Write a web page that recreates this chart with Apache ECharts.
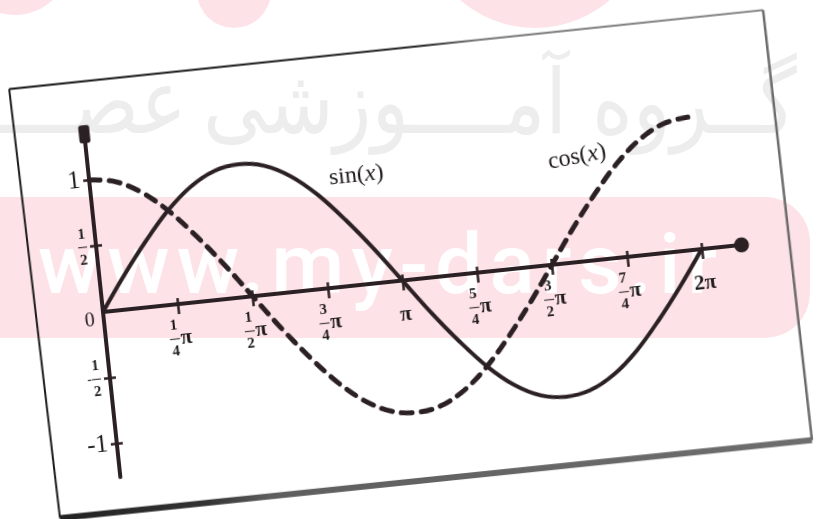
<!DOCTYPE html>
<html>
<head>
<meta charset="utf-8">
<script src="https://cdn.jsdelivr.net/npm/echarts@6/dist/echarts.min.js"></script>
<style>
  html, body { margin: 0; padding: 0; background: #fff; }
  #page { position: relative; width: 819px; height: 519px; overflow: hidden; background: #fff; }
  #wm { position: absolute; left: 0; top: 0; }
  /* the plot sheet sits slightly tilted on the page */
  #chart { position: absolute; left: 13px; top: 62px; width: 820px; height: 480px;
           transform: rotate(-6deg); transform-origin: 90px 250px; }
</style>
</head>
<body>
<div id="page">
  <svg id="wm" width="819" height="519" xmlns="http://www.w3.org/2000/svg">
    <g fill="#fde3e8">
      <circle cx="15" cy="-40" r="55"/>
      <circle cx="234" cy="-9" r="37"/>
      <circle cx="535" cy="-86" r="114"/>
      <rect x="-60" y="197" width="870" height="141" rx="45" ry="45"/>
    </g>
    <text id="fa1" x="0" y="0" font-family="DejaVu Sans" font-size="90" fill="#ededed">گــروه آمــــوزشی</text>
    <text id="fa2" x="0" y="0" font-family="DejaVu Sans" font-size="90" fill="#ededed">عصــــر</text>
    <text x="38" y="293" font-family="Roboto, 'Open Sans', sans-serif" font-weight="500" font-size="84"
          fill="#ffffff" textLength="679" lengthAdjust="spacing">www.my-dars.ir</text>
  </svg>
  <div id="chart"></div>
</div>
<script>
// Sample positions along x, in multiples of π
const xPi = [0, 0.083, 0.167, 0.25, 0.333, 0.417, 0.5, 0.583, 0.667, 0.75, 0.833, 0.917, 1,
             1.083, 1.167, 1.25, 1.333, 1.417, 1.5, 1.583, 1.667, 1.75, 1.833, 1.917, 2];
const sinValues = [0, 0.26, 0.5, 0.71, 0.87, 0.97, 1, 0.97, 0.87, 0.71, 0.5, 0.26, 0,
                   -0.26, -0.5, -0.71, -0.87, -0.97, -1, -0.97, -0.87, -0.71, -0.5, -0.26, 0];
const cosValues = [1, 0.97, 0.87, 0.71, 0.5, 0.26, 0, -0.26, -0.5, -0.71, -0.87, -0.97, -1,
                   -0.97, -0.87, -0.71, -0.5, -0.26, 0, 0.26, 0.5, 0.71, 0.87, 0.97, 1];
const xTickValues = [0.25, 0.5, 0.75, 1, 1.25, 1.5, 1.75, 2];
const xTickLabels = ['1/4π', '1/2π', '3/4π', 'π', '5/4π', '3/2π', '7/4π', '2π'];
const yTickValues = [1, 0.5, 0, -0.5, -1];
const yTickLabels = ['1', '1/2', '0', '-1/2', '-1'];
const yTickMarks = [1, 0.5, -0.5, -1];
const curveNames = ['sin(x)', 'cos(x)'];

// Watermark words: stretch the first run between its two edges, set the second run
// with the same stretch so that its right edge lands where it should
(function placeWatermark() {
  const a = document.getElementById('fa1');
  const b = document.getElementById('fa2');
  const ba = a.getBBox();
  const sx = (797 - 203) / ba.width;
  a.setAttribute('transform', 'translate(' + (797 - (ba.x + ba.width) * sx) + ',133) scale(' + sx + ',1)');
  const bb = b.getBBox();
  b.setAttribute('transform', 'translate(' + (187 - (bb.x + bb.width) * sx) + ',133) scale(' + sx + ',1)');
})();

// Layout of the plot inside its (rotated) box
const INK = '#2b2023';
const LABEL_INK = '#1f1a1b';
const SERIF = '"Liberation Serif", "DejaVu Serif", serif';
const OX = 90, OY = 250;               // where the axes cross, in box pixels
const PX_PER_PI = 301, PX_PER_UNIT = 132.7;
const X_MAX = 2.133, Y_MAX = 1.347, Y_MIN = -1.25;
const sinLabelAt = [0.884, 0.827];
const cosLabelAt = [1.62, 0.788];

function findLabel(values, labels, v) {
  const i = values.findIndex(t => Math.abs(t - v) < 1e-6);
  return i < 0 ? '' : labels[i];
}

function xLabel(v) {
  const s = findLabel(xTickValues, xTickLabels, v);
  if (!s) return '';
  const body = s.replace('π', '');
  if (body.indexOf('/') >= 0) {
    const [num, den] = body.split('/');
    return '{n|' + num + '}{g| }\n{b| }{p|π}\n{n|' + den + '}{g| }';
  }
  return '{e| }\n{w|' + s + '}\n{e| }';
}

function yLabel(v) {
  const s = findLabel(yTickValues, yTickLabels, v);
  if (!s) return '';
  if (s.indexOf('/') >= 0) {
    const neg = s[0] === '-';
    const [num, den] = s.replace('-', '').split('/');
    if (neg) return '{mg| }{n|' + num + '}\n{m|-}{b| }\n{mg| }{n|' + den + '}';
    return '{n|' + num + '}\n{b| }\n{n|' + den + '}';
  }
  if (s === '0') return '{z|0}';
  return '{i|' + s + '}';
}

const xRich = {
  n: { fontFamily: SERIF, fontSize: 15, fontWeight: 'bold', lineHeight: 13, width: 10, align: 'center', color: LABEL_INK },
  g: { width: 13, lineHeight: 13, align: 'right' },
  b: { width: 10, height: 1.2, lineHeight: 13, backgroundColor: '#4a3d3f' },
  p: { fontFamily: SERIF, fontSize: 21, fontWeight: 'bold', lineHeight: 13, width: 13, color: LABEL_INK },
  e: { fontSize: 10, lineHeight: 13 },
  w: { fontFamily: SERIF, fontSize: 21, fontWeight: 'bold', lineHeight: 13, color: LABEL_INK }
};

const yRich = {
  n: { fontFamily: SERIF, fontSize: 15, fontWeight: 'bold', lineHeight: 13, width: 9, align: 'center', color: LABEL_INK },
  b: { width: 9, height: 1.2, lineHeight: 13, backgroundColor: '#4a3d3f' },
  mg: { width: 7, lineHeight: 13 },
  m: { width: 7, fontFamily: SERIF, fontSize: 14, lineHeight: 13, color: LABEL_INK },
  i: { fontFamily: SERIF, fontSize: 25, color: LABEL_INK },
  z: { fontFamily: SERIF, fontSize: 20, color: LABEL_INK, padding: [16, 0, 0, 0] }
};

const curveLabelRich = {
  t: { fontFamily: SERIF, fontSize: 24, color: LABEL_INK },
  it: { fontFamily: SERIF, fontSize: 24, fontStyle: 'italic', color: LABEL_INK }
};

function curveLabel(name) {
  const m = name.match(/^(\w+)\((\w)\)$/);
  return '{t|' + m[1] + '(}{it|' + m[2] + '}{t|)}';
}

function framePt(dx, dy) { return [OX + dx, OY + dy]; }
const fTL = framePt(-70, -231.5), fTR = framePt(688, -231.3);
const fBR = framePt(691.7, 201.4), fBL = framePt(-64.3, 200.4);

const plotGrid = {
  left: OX,
  top: OY - Y_MAX * PX_PER_UNIT,
  width: X_MAX * PX_PER_PI,
  height: (Y_MAX - Y_MIN) * PX_PER_UNIT
};
// a thin companion grid whose lower edge runs along y = 0, carrying the x tick labels
const labelGrid = { left: OX, top: OY - 40, width: X_MAX * PX_PER_PI, height: 40 };

const chart = echarts.init(document.getElementById('chart'), null, { renderer: 'canvas' });

chart.setOption({
  animation: false,
  backgroundColor: 'transparent',
  grid: [plotGrid, labelGrid],
  xAxis: [
    {
      type: 'value', gridIndex: 0, min: 0, max: X_MAX, position: 'bottom',
      axisLine: { show: true, onZero: true, onZeroAxisIndex: 0,
                  lineStyle: { color: INK, width: 4 },
                  symbol: ['none', 'circle'], symbolSize: [15, 15] },
      axisTick: { show: true, customValues: xTickValues, length: 10, lineStyle: { color: INK, width: 2.5 } },
      axisLabel: { show: false },
      splitLine: { show: false }
    },
    {
      type: 'value', gridIndex: 0, min: 0, max: X_MAX, position: 'top',
      axisLine: { show: false, onZero: true, onZeroAxisIndex: 1 },
      axisTick: { show: true, customValues: xTickValues, length: 6, lineStyle: { color: INK, width: 2.5 } },
      axisLabel: { show: false },
      splitLine: { show: false }
    },
    {
      type: 'value', gridIndex: 1, min: 0, max: X_MAX, position: 'bottom',
      axisLine: { show: false, onZero: false },
      axisTick: { show: false },
      axisLabel: { show: true, customValues: xTickValues, margin: 15, formatter: xLabel, rich: xRich,
                   align: 'center', verticalAlign: 'top' },
      splitLine: { show: false }
    }
  ],
  yAxis: [
    {
      type: 'value', gridIndex: 0, min: Y_MIN, max: Y_MAX, position: 'left',
      axisLine: { show: true, onZero: true, onZeroAxisIndex: 0,
                  lineStyle: { color: INK, width: 4 },
                  symbol: ['none', 'roundRect'], symbolSize: [11, 18] },
      axisTick: { show: true, customValues: yTickMarks, length: 6, lineStyle: { color: INK, width: 2.5 } },
      axisLabel: { show: true, customValues: yTickValues, margin: 9, formatter: yLabel, rich: yRich },
      splitLine: { show: false }
    },
    {
      type: 'value', gridIndex: 0, min: Y_MIN, max: Y_MAX, position: 'right',
      axisLine: { show: false, onZero: true, onZeroAxisIndex: 1 },
      axisTick: { show: true, customValues: yTickMarks, length: 6, lineStyle: { color: INK, width: 2.5 } },
      axisLabel: { show: false },
      splitLine: { show: false }
    },
    {
      type: 'value', gridIndex: 1, min: 0, max: 1, show: false
    }
  ],
  series: [
    {
      name: curveNames[0], type: 'line', xAxisIndex: 0, yAxisIndex: 0,
      data: xPi.map((x, i) => [x, sinValues[i]]),
      smooth: 0.35, showSymbol: false, clip: false, z: 3,
      lineStyle: { color: INK, width: 4 },
      markPoint: {
        symbol: 'circle', symbolSize: 1, itemStyle: { color: 'rgba(0,0,0,0)' },
        label: { show: true, position: 'inside', formatter: () => curveLabel(curveNames[0]), rich: curveLabelRich },
        data: [{ coord: sinLabelAt }]
      }
    },
    {
      name: curveNames[1], type: 'line', xAxisIndex: 0, yAxisIndex: 0,
      data: xPi.map((x, i) => [x, cosValues[i]]),
      smooth: 0.35, showSymbol: false, clip: false, z: 3,
      lineStyle: { color: INK, width: 5, type: [11, 9], cap: 'round' },
      markPoint: {
        symbol: 'circle', symbolSize: 1, itemStyle: { color: 'rgba(0,0,0,0)' },
        label: { show: true, position: 'inside', rotate: 5, formatter: () => curveLabel(curveNames[1]), rich: curveLabelRich },
        data: [{ coord: cosLabelAt }]
      }
    }
  ],
  graphic: [
    { type: 'line', silent: true,
      shape: { x1: fTL[0], y1: fTL[1], x2: fTR[0], y2: fTR[1] },
      style: { lineWidth: 2,
               stroke: { type: 'linear', x: 0, y: 0, x2: 1, y2: 0,
                         colorStops: [{ offset: 0, color: '#111' }, { offset: 0.55, color: '#222' },
                                      { offset: 0.62, color: '#777' }, { offset: 1, color: '#888' }] } } },
    { type: 'line', silent: true,
      shape: { x1: fTL[0], y1: fTL[1], x2: fBL[0], y2: fBL[1] },
      style: { lineWidth: 2, stroke: '#1c1c1c' } },
    { type: 'line', silent: true,
      shape: { x1: fTR[0], y1: fTR[1], x2: fBR[0], y2: fBR[1] },
      style: { lineWidth: 2.5, stroke: '#6c6c6c' } },
    { type: 'line', silent: true,
      shape: { x1: fBL[0], y1: fBL[1], x2: fBR[0], y2: fBR[1] },
      style: { lineWidth: 6,
               stroke: { type: 'linear', x: 0, y: 0, x2: 1, y2: 0,
                         colorStops: [{ offset: 0, color: '#222' }, { offset: 0.2, color: '#333' },
                                      { offset: 0.28, color: '#5e5e5e' }, { offset: 1, color: '#6e6e6e' }] } } }
  ]
});
</script>
</body>
</html>
